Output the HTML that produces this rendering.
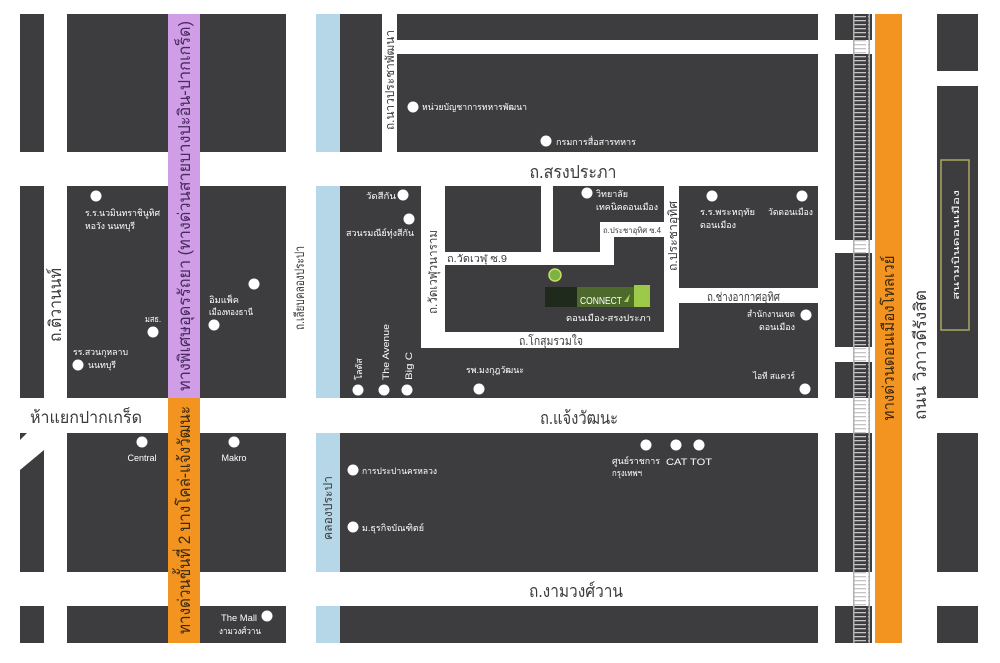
<!DOCTYPE html>
<html><head><meta charset="utf-8"><style>
html,body{margin:0;padding:0;background:#fff;}
svg{display:block;}
text{font-family:"Liberation Sans","DejaVu Sans","Noto Sans CJK SC",sans-serif;}
.w{fill:#fff;font-size:9px;}
.d{fill:#3a3a3c;}
</style></head><body>
<svg width="1000" height="663" viewBox="0 0 1000 663" xmlns="http://www.w3.org/2000/svg">
<defs>
<pattern id="rail" x="0" y="0" width="17" height="4" patternUnits="userSpaceOnUse">
<rect x="1" y="0" width="15" height="1.3" fill="#c4c4c4"/>
</pattern>
</defs>
<rect width="1000" height="663" fill="#fff"/>
<g fill="#3d3d3f">
<rect x="20" y="14" width="24" height="138"/>
<rect x="20" y="186" width="24" height="212"/>
<polygon points="20,470 44,450 44,572 20,572"/>
<polygon points="20,433 27,433 20,440"/>
<rect x="20" y="606" width="24" height="37"/>
<rect x="67" y="14" width="101" height="138"/>
<rect x="67" y="186" width="101" height="212"/>
<rect x="67" y="433" width="101" height="139"/>
<rect x="67" y="606" width="101" height="37"/>
<rect x="200" y="14" width="86" height="138"/>
<rect x="200" y="186" width="86" height="212"/>
<rect x="200" y="433" width="86" height="139"/>
<rect x="200" y="606" width="86" height="37"/>
<rect x="340" y="14" width="42" height="138"/>
<rect x="397" y="14" width="421" height="26"/>
<rect x="397" y="54" width="421" height="98"/>
<rect x="340" y="186" width="478" height="212"/>
<rect x="340" y="433" width="478" height="139"/>
<rect x="340" y="606" width="478" height="37"/>
<rect x="835" y="14" width="37" height="26"/>
<rect x="835" y="54" width="37" height="186"/>
<rect x="835" y="253" width="37" height="94"/>
<rect x="835" y="362" width="37" height="36"/>
<rect x="835" y="433" width="37" height="139"/>
<rect x="835" y="606" width="37" height="37"/>
<rect x="937" y="14" width="41" height="57"/>
<rect x="937" y="86" width="41" height="312"/>
<rect x="937" y="433" width="41" height="139"/>
<rect x="937" y="606" width="41" height="37"/>
</g>
<g fill="#fff">
<rect x="421" y="186" width="24" height="162"/>
<rect x="421" y="332" width="258" height="16"/>
<rect x="664" y="186" width="15" height="162"/>
<rect x="679" y="288" width="139" height="15"/>
<rect x="541" y="186" width="12" height="79"/>
<rect x="445" y="252" width="155" height="13"/>
<rect x="600" y="222" width="64" height="15"/>
<rect x="600" y="222" width="14" height="43"/>
</g>
<g fill="#b5d7e8">
<rect x="316" y="14" width="24" height="138"/>
<rect x="316" y="186" width="24" height="212"/>
<rect x="316" y="433" width="24" height="139"/>
<rect x="316" y="606" width="24" height="37"/>
</g>
<rect x="168" y="14" width="32" height="384" fill="#cf9ee6"/>
<rect x="168" y="398" width="32" height="245" fill="#f39320"/>
<rect x="875" y="14" width="27" height="629" fill="#f39320"/>
<rect x="853" y="14" width="17" height="629" fill="url(#rail)"/>
<rect x="853" y="14" width="1.5" height="629" fill="#b0b0b0"/>
<rect x="868.5" y="14" width="1.5" height="629" fill="#b0b0b0"/>
<rect x="941" y="160" width="28" height="170" fill="none" stroke="#a9a860" stroke-width="1.5"/>
<text class="w" font-size="12" transform="translate(959,245) rotate(-90)" text-anchor="middle" textLength="110" lengthAdjust="spacingAndGlyphs">สนามบินดอนเมือง</text>

<text class="d" font-size="18" x="573" y="178" text-anchor="middle" textLength="87" lengthAdjust="spacingAndGlyphs">ถ.สรงประภา</text>
<text class="d" font-size="18" x="579" y="424" text-anchor="middle" textLength="78" lengthAdjust="spacingAndGlyphs">ถ.แจ้งวัฒนะ</text>
<text class="d" font-size="18" x="576" y="597" text-anchor="middle" textLength="94" lengthAdjust="spacingAndGlyphs">ถ.งามวงศ์วาน</text>
<text class="d" font-size="17" x="30" y="423" textLength="112" lengthAdjust="spacingAndGlyphs">ห้าแยกปากเกร็ด</text>
<text class="d" font-size="17" transform="translate(61,305) rotate(-90)" text-anchor="middle" textLength="74" lengthAdjust="spacingAndGlyphs">ถ.ติวานนท์</text>
<text class="d" font-size="13" transform="translate(304,288) rotate(-90)" text-anchor="middle" textLength="84" lengthAdjust="spacingAndGlyphs">ถ.เลียบคลองประปา</text>
<text class="d" font-size="12" transform="translate(394,80) rotate(-90)" text-anchor="middle" textLength="100" lengthAdjust="spacingAndGlyphs">ถ.นาวประชาพัฒนา</text>
<text class="d" font-size="12" transform="translate(437,272) rotate(-90)" text-anchor="middle" textLength="84" lengthAdjust="spacingAndGlyphs">ถ.วัดเวฬุวนาราม</text>
<text class="d" font-size="12" transform="translate(677,236) rotate(-90)" text-anchor="middle" textLength="70" lengthAdjust="spacingAndGlyphs">ถ.ประชาอุทิศ</text>
<text class="d" font-size="10" x="447" y="262" textLength="60" lengthAdjust="spacingAndGlyphs">ถ.วัดเวฬุ ซ.9</text>
<text class="d" font-size="8" x="603" y="233" textLength="58" lengthAdjust="spacingAndGlyphs">ถ.ประชาอุทิศ ซ.4</text>
<text class="d" font-size="12" x="519" y="345" textLength="64" lengthAdjust="spacingAndGlyphs">ถ.โกสุมรวมใจ</text>
<text class="d" font-size="12" x="707" y="301" textLength="73" lengthAdjust="spacingAndGlyphs">ถ.ช่างอากาศอุทิศ</text>
<text class="d" font-size="12" transform="translate(332,508) rotate(-90)" text-anchor="middle" textLength="64" lengthAdjust="spacingAndGlyphs">คลองประปา</text>
<text fill="#4a2a60" font-size="17" transform="translate(190,206) rotate(-90)" text-anchor="middle" textLength="370" lengthAdjust="spacingAndGlyphs">ทางพิเศษอุดรรัถยา (ทางด่วนสายบางปะอิน-ปากเกร็ด)</text>
<text fill="#3a2a10" font-size="17" transform="translate(190,520) rotate(-90)" text-anchor="middle" textLength="228" lengthAdjust="spacingAndGlyphs">ทางด่วนขั้นที่ 2 บางโคล่-แจ้งวัฒนะ</text>
<text fill="#3a2a10" font-size="16" transform="translate(894,338) rotate(-90)" text-anchor="middle" textLength="165" lengthAdjust="spacingAndGlyphs">ทางด่วนดอนเมืองโทลเวย์</text>
<text class="d" font-size="17" transform="translate(926,355) rotate(-90)" text-anchor="middle" textLength="130" lengthAdjust="spacingAndGlyphs">ถนน วิภาวดีรังสิต</text>

<g fill="#fff">
<circle cx="413" cy="107" r="5.5"/><circle cx="546" cy="141" r="5.5"/>
<circle cx="96" cy="196" r="5.5"/><circle cx="254" cy="284" r="5.5"/><circle cx="214" cy="325" r="5.5"/>
<circle cx="153" cy="332" r="5.5"/><circle cx="78" cy="365" r="5.5"/>
<circle cx="142" cy="442" r="5.5"/><circle cx="234" cy="442" r="5.5"/><circle cx="267" cy="616" r="5.5"/>
<circle cx="403" cy="195" r="5.5"/><circle cx="409" cy="219" r="5.5"/>
<circle cx="358" cy="390" r="5.5"/><circle cx="384" cy="390" r="5.5"/><circle cx="407" cy="390" r="5.5"/>
<circle cx="479" cy="389" r="5.5"/><circle cx="587" cy="193" r="5.5"/>
<circle cx="712" cy="196" r="5.5"/><circle cx="802" cy="196" r="5.5"/>
<circle cx="806" cy="315" r="5.5"/><circle cx="805" cy="389" r="5.5"/>
<circle cx="353" cy="470" r="5.5"/><circle cx="353" cy="527" r="5.5"/>
<circle cx="646" cy="445" r="5.5"/><circle cx="676" cy="445" r="5.5"/><circle cx="699" cy="445" r="5.5"/>
</g>
<text class="w" x="422" y="110" textLength="105" lengthAdjust="spacingAndGlyphs">หน่วยบัญชาการทหารพัฒนา</text>
<text class="w" x="556" y="145" textLength="80" lengthAdjust="spacingAndGlyphs">กรมการสื่อสารทหาร</text>
<text class="w" x="85" y="216" textLength="75" lengthAdjust="spacingAndGlyphs">ร.ร.นวมินทราชินูทิศ</text>
<text class="w" x="85" y="229" textLength="50" lengthAdjust="spacingAndGlyphs">หอวัง นนทบุรี</text>
<text class="w" x="209" y="303" textLength="30" lengthAdjust="spacingAndGlyphs">อิมแพ็ค</text>
<text class="w" x="209" y="315" textLength="44" lengthAdjust="spacingAndGlyphs">เมืองทองธานี</text>
<text class="w" x="145" y="322" textLength="16" lengthAdjust="spacingAndGlyphs">มสธ.</text>
<text class="w" x="73" y="355" textLength="55" lengthAdjust="spacingAndGlyphs">รร.สวนกุหลาบ</text>
<text class="w" x="88" y="368" textLength="28" lengthAdjust="spacingAndGlyphs">นนทบุรี</text>
<text class="w" font-size="13" x="142" y="461" text-anchor="middle">Central</text>
<text class="w" font-size="13" x="234" y="461" text-anchor="middle">Makro</text>
<text class="w" x="221" y="621" textLength="36" lengthAdjust="spacingAndGlyphs">The Mall</text>
<text class="w" x="219" y="634" textLength="42" lengthAdjust="spacingAndGlyphs">งามวงศ์วาน</text>
<text class="w" x="396" y="199" text-anchor="end" textLength="30" lengthAdjust="spacingAndGlyphs">วัดสีกัน</text>
<text class="w" x="346" y="236" textLength="68" lengthAdjust="spacingAndGlyphs">สวนรมณีย์ทุ่งสีกัน</text>
<text class="w" transform="translate(362,380) rotate(-90)" textLength="22" lengthAdjust="spacingAndGlyphs">โลตัส</text>
<text class="w" font-size="12" transform="translate(389,380) rotate(-90)" textLength="56" lengthAdjust="spacingAndGlyphs">The Avenue</text>
<text class="w" font-size="12" transform="translate(412,380) rotate(-90)" textLength="28" lengthAdjust="spacingAndGlyphs">Big C</text>
<text class="w" x="466" y="373" textLength="58" lengthAdjust="spacingAndGlyphs">รพ.มงกุฎวัฒนะ</text>
<text class="w" x="596" y="197" textLength="32" lengthAdjust="spacingAndGlyphs">วิทยาลัย</text>
<text class="w" x="596" y="210" textLength="62" lengthAdjust="spacingAndGlyphs">เทคนิคดอนเมือง</text>
<text class="w" x="700" y="215" textLength="55" lengthAdjust="spacingAndGlyphs">ร.ร.พระหฤทัย</text>
<text class="w" x="700" y="228" textLength="36" lengthAdjust="spacingAndGlyphs">ดอนเมือง</text>
<text class="w" x="768" y="215" textLength="45" lengthAdjust="spacingAndGlyphs">วัดดอนเมือง</text>
<text class="w" x="795" y="317" text-anchor="end" textLength="48" lengthAdjust="spacingAndGlyphs">สำนักงานเขต</text>
<text class="w" x="795" y="330" text-anchor="end" textLength="36" lengthAdjust="spacingAndGlyphs">ดอนเมือง</text>
<text class="w" x="795" y="379" text-anchor="end" textLength="42" lengthAdjust="spacingAndGlyphs">ไอที สแควร์</text>
<text class="w" x="362" y="474" textLength="75" lengthAdjust="spacingAndGlyphs">การประปานครหลวง</text>
<text class="w" x="362" y="531" textLength="62" lengthAdjust="spacingAndGlyphs">ม.ธุรกิจบัณฑิตย์</text>
<text class="w" font-size="8" x="612" y="464" textLength="48" lengthAdjust="spacingAndGlyphs">ศูนย์ราชการ</text>
<text class="w" font-size="8" x="612" y="476" textLength="30" lengthAdjust="spacingAndGlyphs">กรุงเทพฯ</text>
<text class="w" font-size="13" x="666" y="465" textLength="46" lengthAdjust="spacingAndGlyphs">CAT TOT</text>
<circle cx="555" cy="275" r="6" fill="#7cb342" stroke="#c8e060" stroke-width="1.5"/>
<rect x="545" y="287" width="32" height="20" fill="#1f2a1c"/>
<rect x="577" y="287" width="57" height="20" fill="#4d6a2c"/>
<rect x="634" y="285" width="16" height="22" fill="#9cc94a"/>
<text fill="#fff" font-size="10" x="580" y="304" textLength="42" lengthAdjust="spacingAndGlyphs">CONNECT</text>
<path d="M624,302 l6,-8 l-2,8z" fill="#a8d44d"/>
<text class="w" font-size="11" x="566" y="321" textLength="85" lengthAdjust="spacingAndGlyphs">ดอนเมือง-สรงประภา</text>
</svg>
</body></html>
